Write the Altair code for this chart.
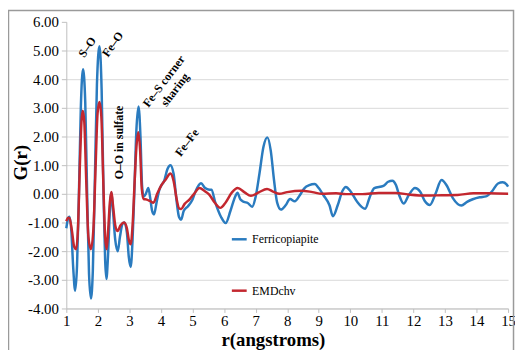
import altair as alt
import pandas as pd

# ---- data ----
blue_r = [1.00, 1.06, 1.10, 1.16, 1.22, 1.28, 1.34, 1.40, 1.46, 1.53, 1.60, 1.66, 1.72, 1.78, 1.84,
          1.90, 1.97, 2.05, 2.12, 2.18, 2.23, 2.27, 2.32, 2.38, 2.43, 2.48, 2.55, 2.63, 2.70, 2.78,
          2.84, 2.92, 2.98, 3.04, 3.10, 3.16, 3.22, 3.29, 3.35, 3.40, 3.45, 3.52, 3.60, 3.66, 3.72,
          3.78, 3.86, 3.95, 4.02, 4.10, 4.20, 4.30, 4.40, 4.50, 4.57, 4.64, 4.72, 4.85, 5.00, 5.10,
          5.27, 5.40, 5.50, 5.60, 5.72, 5.90, 6.05, 6.20, 6.35, 6.42, 6.52, 6.63, 6.75, 6.89, 7.00,
          7.12, 7.25, 7.37, 7.48, 7.58, 7.68, 7.80, 7.95, 8.09, 8.24, 8.40, 8.55, 8.70, 8.87, 9.00,
          9.15, 9.34, 9.45, 9.60, 9.75, 9.86, 10.00, 10.20, 10.47, 10.62, 10.76, 11.05, 11.20, 11.33,
          11.45, 11.55, 11.69, 11.85, 12.05, 12.21, 12.36, 12.52, 12.70, 12.89, 13.05, 13.25, 13.52,
          13.70, 13.88, 14.10, 14.30, 14.50, 14.68, 14.83, 14.95, 15.00]
blue_g = [-1.20, -0.85, -0.80, -1.30, -2.60, -3.38, -2.50, 0.00, 3.00, 4.35, 3.20, 0.00, -2.80, -3.65, -2.70,
          0.20, 3.80, 5.15, 3.60, 0.00, -2.30, -2.97, -2.20, -0.60, 0.05, -0.60, -1.60, -2.00, -1.50, -1.05,
          -1.00, -1.35, -2.20, -2.55, -1.60, 0.20, 2.20, 3.05, 2.00, 0.30, -0.10, 0.00, 0.20, -0.15, -0.60,
          -0.72, -0.30, 0.15, 0.31, 0.45, 0.85, 1.00, 0.70, -0.30, -0.80, -0.90, -0.60, -0.44, -0.20, 0.10,
          0.37, 0.20, 0.15, 0.14, -0.30, -0.80, -1.02, -0.60, -0.10, 0.04, -0.20, -0.28, -0.32, -0.45, -0.10,
          0.70, 1.65, 1.97, 1.50, 0.50, -0.30, -0.55, -0.40, -0.18, -0.26, -0.05, 0.20, 0.30, 0.34, 0.20,
          -0.05, -0.40, -0.78, -0.40, 0.10, 0.24, 0.10, -0.25, -0.52, -0.10, 0.20, 0.28, 0.42, 0.46,
          0.30, -0.05, -0.34, -0.05, 0.20, 0.08, -0.25, -0.39, 0.00, 0.48, 0.30, -0.15, -0.41,
          -0.28, -0.19, -0.12, -0.09, 0.10, 0.36, 0.40, 0.33, 0.25]

red_r = [1.00, 1.06, 1.10, 1.18, 1.25, 1.31, 1.37, 1.43, 1.48, 1.52, 1.57, 1.63, 1.70, 1.78, 1.86,
         1.93, 1.99, 2.05, 2.11, 2.17, 2.23, 2.28, 2.33, 2.38, 2.43, 2.48, 2.55, 2.62, 2.72, 2.83,
         2.92, 2.98, 3.04, 3.10, 3.16, 3.22, 3.28, 3.34, 3.39, 3.45, 3.55, 3.65, 3.76, 3.88, 4.02,
         4.15, 4.30, 4.40, 4.50, 4.57, 4.64, 4.75, 4.90, 5.05, 5.22, 5.38, 5.53, 5.70, 5.88, 6.05,
         6.25, 6.43, 6.65, 6.85, 7.10, 7.36, 7.55, 7.75, 8.00, 8.45, 8.80, 9.10, 9.55, 9.86, 10.38,
         10.90, 11.43, 11.90, 12.40, 12.90, 13.40, 13.90, 14.40, 15.00]
red_g = [-0.95, -0.83, -0.85, -1.30, -1.85, -1.93, -1.20, 1.00, 2.50, 2.90, 2.50, 0.50, -1.50, -1.93, -1.20,
         1.00, 2.80, 3.20, 2.70, 0.50, -1.50, -1.93, -1.20, -0.30, 0.06, -0.40, -1.10, -1.30, -1.10, -1.00,
         -1.20, -1.60, -1.76, -1.10, 0.30, 1.60, 2.15, 1.50, 0.20, -0.18, -0.20, -0.25, -0.31, 0.00, 0.31,
         0.50, 0.71, 0.45, -0.20, -0.50, -0.53, -0.35, -0.20, 0.00, 0.20, 0.10, -0.03, -0.30, -0.49, -0.30,
         0.05, 0.20, 0.05, -0.07, 0.05, 0.17, 0.08, 0.00, 0.06, 0.11, 0.06, 0.00, 0.02, -0.01, -0.01,
         0.03, 0.03, -0.03, -0.06, -0.05, -0.04, 0.02, 0.02, 0.00]

series_names = ["Ferricopiapite", "EMDchv"]
series_colors = ["#2a7bbf", "#c3272f"]

x_ticks = list(range(1, 16))
y_ticks = [-4, -3, -2, -1, 0, 1, 2, 3, 4, 5, 6]

ann_text = ["S\u2013O", "Fe\u2013O", "O\u2013O in sulfate", "Fe\u2013S corner\nsharing", "Fe\u2013Fe"]
ann_r = [1.66, 2.47, 2.66, 4.09, 4.82]
ann_g = [5.12, 5.22, 1.79, 3.93, 1.79]
ann_angle = [305, 305, 270, 307, 307]

# ---- tables ----
lines_df = pd.concat([
    pd.DataFrame({"r": blue_r, "G": blue_g, "series": series_names[0]}),
    pd.DataFrame({"r": red_r, "G": red_g, "series": series_names[1]}),
], ignore_index=True)
ann_df = pd.DataFrame({"r": ann_r, "G": ann_g, "text": ann_text, "angle": ann_angle})

SERIF = "Liberation Serif, Times New Roman, serif"

x_axis = alt.Axis(values=x_ticks, format="d", grid=False, labelOverlap=False,
                  domainColor="#bfbfbf", tickColor="#bfbfbf", tickSize=4,
                  labelFont=SERIF, labelFontSize=15, labelColor="black", labelPadding=1,
                  labelFlush=False,
                  title="r(angstroms)", titleFont=SERIF, titleFontSize=19,
                  titleFontWeight="bold", titleColor="black",
                  titleX=209, titleY=37, titleAlign="center", titleBaseline="alphabetic")
y_axis = alt.Axis(values=y_ticks, grid=True, gridColor="#d9d9d9", labelOverlap=False,
                  labelExpr="replace(format(datum.value, '.2f'), '\u2212', '-')",
                  gridOpacity={"condition": {"test": "datum.value == 6", "value": 0}, "value": 1},
                  domainColor="#bfbfbf", tickColor="#bfbfbf", tickSize=5,
                  labelFont=SERIF, labelFontSize=15, labelColor="black", labelPadding=3,
                  labelFlush=False,
                  title="G(r)", titleFont=SERIF, titleFontSize=19, titleFontWeight="bold",
                  titleColor="black", titleX=-46, titleY=142, titleAngle=270,
                  titleAlign="center", titleBaseline="middle")

x_enc = alt.X("r:Q", scale=alt.Scale(domain=[1, 15], nice=False), axis=x_axis)
y_enc = alt.Y("G:Q", scale=alt.Scale(domain=[-4, 6], nice=False), axis=y_axis)

color_enc = alt.Color("series:N",
                      scale=alt.Scale(domain=series_names, range=series_colors),
                      legend=alt.Legend(orient="none", legendX=166, legendY=211, title=None,
                                        symbolType="stroke", symbolSize=225, symbolStrokeWidth=2.5,
                                        labelFont=SERIF, labelFontSize=12, labelColor="black",
                                        rowPadding=37, padding=0, labelOffset=4))

base = alt.Chart(lines_df)
blue_line = base.transform_filter(alt.datum.series == series_names[0]).mark_line(
    interpolate="monotone", strokeWidth=2.5).encode(x=x_enc, y=y_enc, color=color_enc)
red_line = base.transform_filter(alt.datum.series == series_names[1]).mark_line(
    interpolate="monotone", strokeWidth=2.5).encode(x=x_enc, y=y_enc, color=color_enc)

ann = alt.Chart(ann_df).mark_text(font=SERIF, fontSize=12, fontWeight="bold", color="black",
                                  align="center", baseline="middle", lineBreak="\n").encode(
    x=x_enc, y=y_enc, text="text:N", angle=alt.Angle("angle:Q", scale=None))

frame = alt.Chart(pd.DataFrame({"k": [0]})).mark_rect(
    fill=None, stroke="#9a9a9a", strokeWidth=1.5, clip=False).encode(
    x=alt.value(-58.5), x2=alt.value(452.5), y=alt.value(-11.5), y2=alt.value(400))

chart = alt.layer(blue_line, red_line, ann, frame).properties(
    width=447, height=290,
    autosize=alt.AutoSizeParams(type="none"),
    padding={"left": 59, "top": 12, "right": 7, "bottom": 40},
).configure_view(stroke=None).configure_axis(labelOverlap=False)

chart.save("out.html", embed_options={"renderer": "svg", "actions": False})
